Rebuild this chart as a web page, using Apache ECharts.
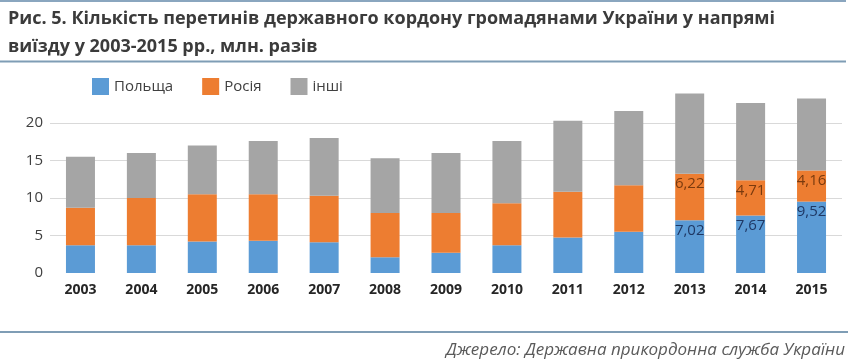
<!DOCTYPE html>
<html>
<head>
<meta charset="utf-8">
<script src="https://cdn.jsdelivr.net/npm/echarts@6/dist/echarts.min.js"></script>
<style>html,body{margin:0;padding:0;background:#fff}#c{width:850px;height:362px}</style>
</head>
<body>
<div id="c"></div>
<script>
var years = ['2003','2004','2005','2006','2007','2008','2009','2010','2011','2012','2013','2014','2015'];
var poland = [3.7, 3.7, 4.2, 4.3, 4.1, 2.1, 2.7, 3.7, 4.75, 5.5, 7.02, 7.67, 9.52];
var russia = [5.0, 6.3, 6.3, 6.2, 6.2, 5.9, 5.3, 5.6, 6.1, 6.2, 6.22, 4.71, 4.16];
var others = [6.8, 6.0, 6.5, 7.1, 7.7, 7.3, 8.0, 8.3, 9.45, 9.9, 10.7, 10.3, 9.6];
var labelledYears = ['2013','2014','2015'];
var yTicks = [5, 10, 15, 20];
var seriesNames = ['Польща', 'Росія', 'інші'];

var FONT = '"Open Sans", "Noto Sans", sans-serif';
function fmt(v){ return String(v).replace('.', ','); }
function withLabels(arr, color){
  return arr.map(function(v, i){
    if (labelledYears.indexOf(years[i]) >= 0) {
      return {value: v, label: {show: true, position: 'insideTop', distance: 3,
        formatter: fmt(v), color: color, fontSize: 15, fontFamily: FONT}};
    }
    return v;
  });
}

var chart = echarts.init(document.getElementById('c'), null, {renderer: 'canvas'});
chart.setOption({
  animation: false,
  backgroundColor: '#ffffff',
  title: {
    text: 'Рис. 5. Кількість перетинів державного кордону громадянами України у напрямі\nвиїзду у 2003-2015 рр., млн. разів',
    left: 3, top: 0,
    textStyle: {fontFamily: FONT, fontWeight: 'bold', fontSize: 18, color: '#3b3b3b', lineHeight: 28}
  },
  legend: {
    data: seriesNames,
    left: 92, top: 78, padding: 0,
    itemWidth: 17, itemHeight: 17, itemGap: 29,
    icon: 'rect',
    textStyle: {fontFamily: FONT, fontSize: 15, color: '#404040'}
  },
  grid: {left: 50, right: 8, top: 93, height: 180},
  xAxis: {
    type: 'category', data: years,
    axisLine: {show: false}, axisTick: {show: false},
    axisLabel: {fontFamily: FONT, fontWeight: 'bold', fontSize: 14, color: '#262626', margin: 10}
  },
  yAxis: {
    type: 'value', min: 0, max: 24, interval: 5,
    splitLine: {show: false}, axisLine: {show: false}, axisTick: {show: false},
    axisLabel: {fontFamily: FONT, fontSize: 15, color: '#404040', margin: 7,
      formatter: function(v){ return v % 5 === 0 ? String(v) : ''; }}
  },
  series: [
    {
      name: 'grid', type: 'line', data: [], z: 0, silent: true,
      markLine: {
        z: 0, silent: true, symbol: 'none', label: {show: false},
        lineStyle: {color: '#d9d9d9', width: 1, type: 'solid'},
        data: yTicks.map(function(t){ return {yAxis: t}; })
      }
    },
    {name: seriesNames[0], type: 'bar', stack: 't', barWidth: 29, z: 2,
     itemStyle: {color: '#5b9bd5'}, data: withLabels(poland, '#1f3864')},
    {name: seriesNames[1], type: 'bar', stack: 't', barWidth: 29, z: 2,
     itemStyle: {color: '#ed7d31'}, data: withLabels(russia, '#7a3a0e')},
    {name: seriesNames[2], type: 'bar', stack: 't', barWidth: 29, z: 2,
     itemStyle: {color: '#a5a5a5'}, data: others}
  ],
  graphic: [
    {type: 'line', shape: {x1: 0, y1: 1, x2: 846, y2: 1}, style: {stroke: '#8aa6bf', lineWidth: 2}},
    {type: 'line', shape: {x1: 0, y1: 61.5, x2: 846, y2: 61.5}, style: {stroke: '#7f9db5', lineWidth: 2}},
    {type: 'line', shape: {x1: 0, y1: 332, x2: 848, y2: 332}, style: {stroke: '#7f9db5', lineWidth: 2}},
    {type: 'text', right: 5, top: 342,
     style: {text: 'Джерело: Державна прикордонна служба України', fill: '#5a5a5a',
       font: 'italic 17px "Open Sans", "Noto Sans", sans-serif'}}
  ]
});
</script>
</body>
</html>
